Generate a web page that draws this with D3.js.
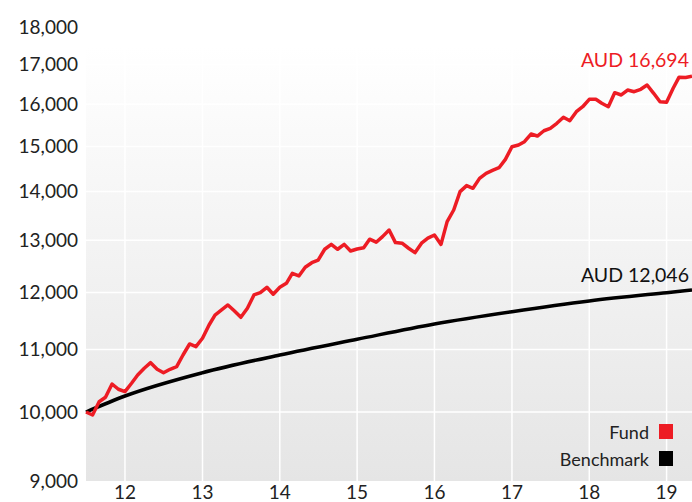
<!DOCTYPE html>
<html lang="en">
<head>
<meta charset="UTF-8">
<title>Fund vs Benchmark</title>
<script src="https://cdn.jsdelivr.net/npm/d3@7.8.5/dist/d3.min.js"></script>
<style>
    body { margin: 0; background: #fff; font-family: Lato, "Open Sans", sans-serif; }
    svg { display: block; }
    .tick-label { font-size: 19px; fill: #222; }
    .legend text { font-size: 18px; fill: #222; }
</style>
</head>
<body>
<svg id="chart" width="692" height="502"></svg>
<script>
    // Fund growth of 10,000 AUD, monthly from Jul 2011
    const fundStart = new Date(2011, 6, 1);
    const fundValues = [
        10000, 9954, 10158, 10227, 10437, 10353, 10315, 10448, 10581, 10690,
        10782, 10674, 10618, 10674, 10716, 10909, 11094, 11049, 11191, 11420,
        11594, 11685, 11775, 11667, 11555, 11715, 11957, 11998, 12097, 11970,
        12097, 12171, 12358, 12308, 12472, 12560, 12611, 12820, 12916, 12820,
        12916, 12786, 12826, 12851, 13019, 12959, 13070, 13203, 12951, 12939,
        12840, 12754, 12939, 13039, 13103, 12916, 13373, 13612, 13999, 14129,
        14071, 14286, 14397, 14460, 14520, 14706, 14993, 15032, 15108, 15286,
        15240, 15363, 15420, 15538, 15681, 15600, 15816, 15937, 16118, 16118,
        16020, 15937, 16282, 16225, 16349, 16307, 16367, 16475, 16267, 16057,
        16045, 16392, 16672, 16662, 16694
    ];

    // Benchmark read at year marks
    const benchDates = [
        new Date(2011, 6, 1), new Date(2012, 0, 1), new Date(2013, 0, 1), new Date(2014, 0, 1),
        new Date(2015, 0, 1), new Date(2016, 0, 1), new Date(2017, 0, 1), new Date(2018, 0, 1),
        new Date(2019, 0, 1), new Date(2019, 4, 1)
    ];
    const benchValues = [10000, 10247, 10618, 10909, 11174, 11438, 11655, 11847, 11998, 12046];

    const yTicks = [9000, 10000, 11000, 12000, 13000, 14000, 15000, 16000, 17000, 18000];
    const xTickYears = [2012, 2013, 2014, 2015, 2016, 2017, 2018, 2019];

    const fundColor = "#ed1c24";
    const benchColor = "#000000";

    const svg = d3.select("#chart");
    const plotLeft = 86, plotRight = 692, plotTop = 47, plotBottom = 481;

    const fundDates = fundValues.map((v, i) => d3.timeMonth.offset(fundStart, i));

    const x = d3.scaleTime()
        .domain([fundStart, fundDates[fundDates.length - 1]])
        .range([plotLeft, plotRight]);

    const y = d3.scaleLog()
        .domain([9000, 18000])
        .range([plotBottom, plotBottom - 655 * Math.LN2]);

    // background gradient
    const grad = svg.append("defs").append("linearGradient")
        .attr("id", "bg").attr("x1", 0).attr("y1", 0).attr("x2", 0).attr("y2", 1);
    grad.append("stop").attr("offset", "0%").attr("stop-color", "#ffffff");
    grad.append("stop").attr("offset", "100%").attr("stop-color", "#e5e5e5");

    svg.append("rect")
        .attr("x", plotLeft).attr("y", plotTop)
        .attr("width", plotRight - plotLeft).attr("height", plotBottom - plotTop)
        .attr("fill", "url(#bg)");

    // grid
    const grid = svg.append("g").attr("stroke", "#fff").attr("stroke-width", 1.5);
    grid.selectAll(".hg")
        .data(yTicks.filter(t => y(t) > plotTop && y(t) < plotBottom))
        .enter().append("line")
        .attr("x1", plotLeft).attr("x2", plotRight)
        .attr("y1", d => y(d)).attr("y2", d => y(d));
    grid.selectAll(".vg")
        .data(xTickYears)
        .enter().append("line")
        .attr("x1", d => x(new Date(d, 0, 1))).attr("x2", d => x(new Date(d, 0, 1)))
        .attr("y1", plotTop).attr("y2", plotBottom);

    // axis labels
    svg.append("g").selectAll("text")
        .data(yTicks)
        .enter().append("text")
        .attr("class", "tick-label")
        .attr("x", 78)
        .attr("y", d => y(d))
        .attr("dy", "0.36em")
        .attr("text-anchor", "end")
        .text(d => d3.format(",")(d));

    svg.append("g").selectAll("text")
        .data(xTickYears)
        .enter().append("text")
        .attr("class", "tick-label")
        .attr("x", d => x(new Date(d, 0, 1)))
        .attr("y", 499)
        .attr("text-anchor", "middle")
        .text(d => String(d % 100));

    // lines
    const benchLine = d3.line()
        .x(d => x(d[0])).y(d => y(d[1]))
        .curve(d3.curveMonotoneX);
    svg.append("path")
        .datum(benchDates.map((d, i) => [d, benchValues[i]]))
        .attr("d", benchLine)
        .attr("fill", "none")
        .attr("stroke", benchColor)
        .attr("stroke-width", 3.5);

    const fundLine = d3.line()
        .x(d => x(d[0])).y(d => y(d[1]));
    svg.append("path")
        .datum(fundDates.map((d, i) => [d, fundValues[i]]))
        .attr("d", fundLine)
        .attr("fill", "none")
        .attr("stroke", fundColor)
        .attr("stroke-width", 3.5)
        .attr("stroke-linejoin", "round");

    // end labels
    const lastFund = fundValues[fundValues.length - 1];
    const lastBench = benchValues[benchValues.length - 1];
    svg.append("text")
        .attr("x", 689).attr("y", y(lastFund) - 9)
        .attr("text-anchor", "end")
        .style("font-size", "19.5px")
        .attr("fill", fundColor)
        .text("AUD " + d3.format(",")(lastFund));
    svg.append("text")
        .attr("x", 689).attr("y", y(lastBench) - 8)
        .attr("text-anchor", "end")
        .style("font-size", "19.5px")
        .attr("fill", "#111")
        .text("AUD " + d3.format(",")(lastBench));

    // legend
    const legendItems = [
        { name: "Fund", color: fundColor },
        { name: "Benchmark", color: benchColor }
    ];
    const legend = svg.append("g").attr("class", "legend");
    legendItems.forEach((d, i) => {
        const cy = 432 + i * 27;
        legend.append("rect")
            .attr("x", 659).attr("y", cy - 8)
            .attr("width", 14).attr("height", 15)
            .attr("fill", d.color);
        legend.append("text")
            .attr("x", 649).attr("y", cy + 7)
            .attr("text-anchor", "end")
            .text(d.name);
    });
</script>
</body>
</html>
